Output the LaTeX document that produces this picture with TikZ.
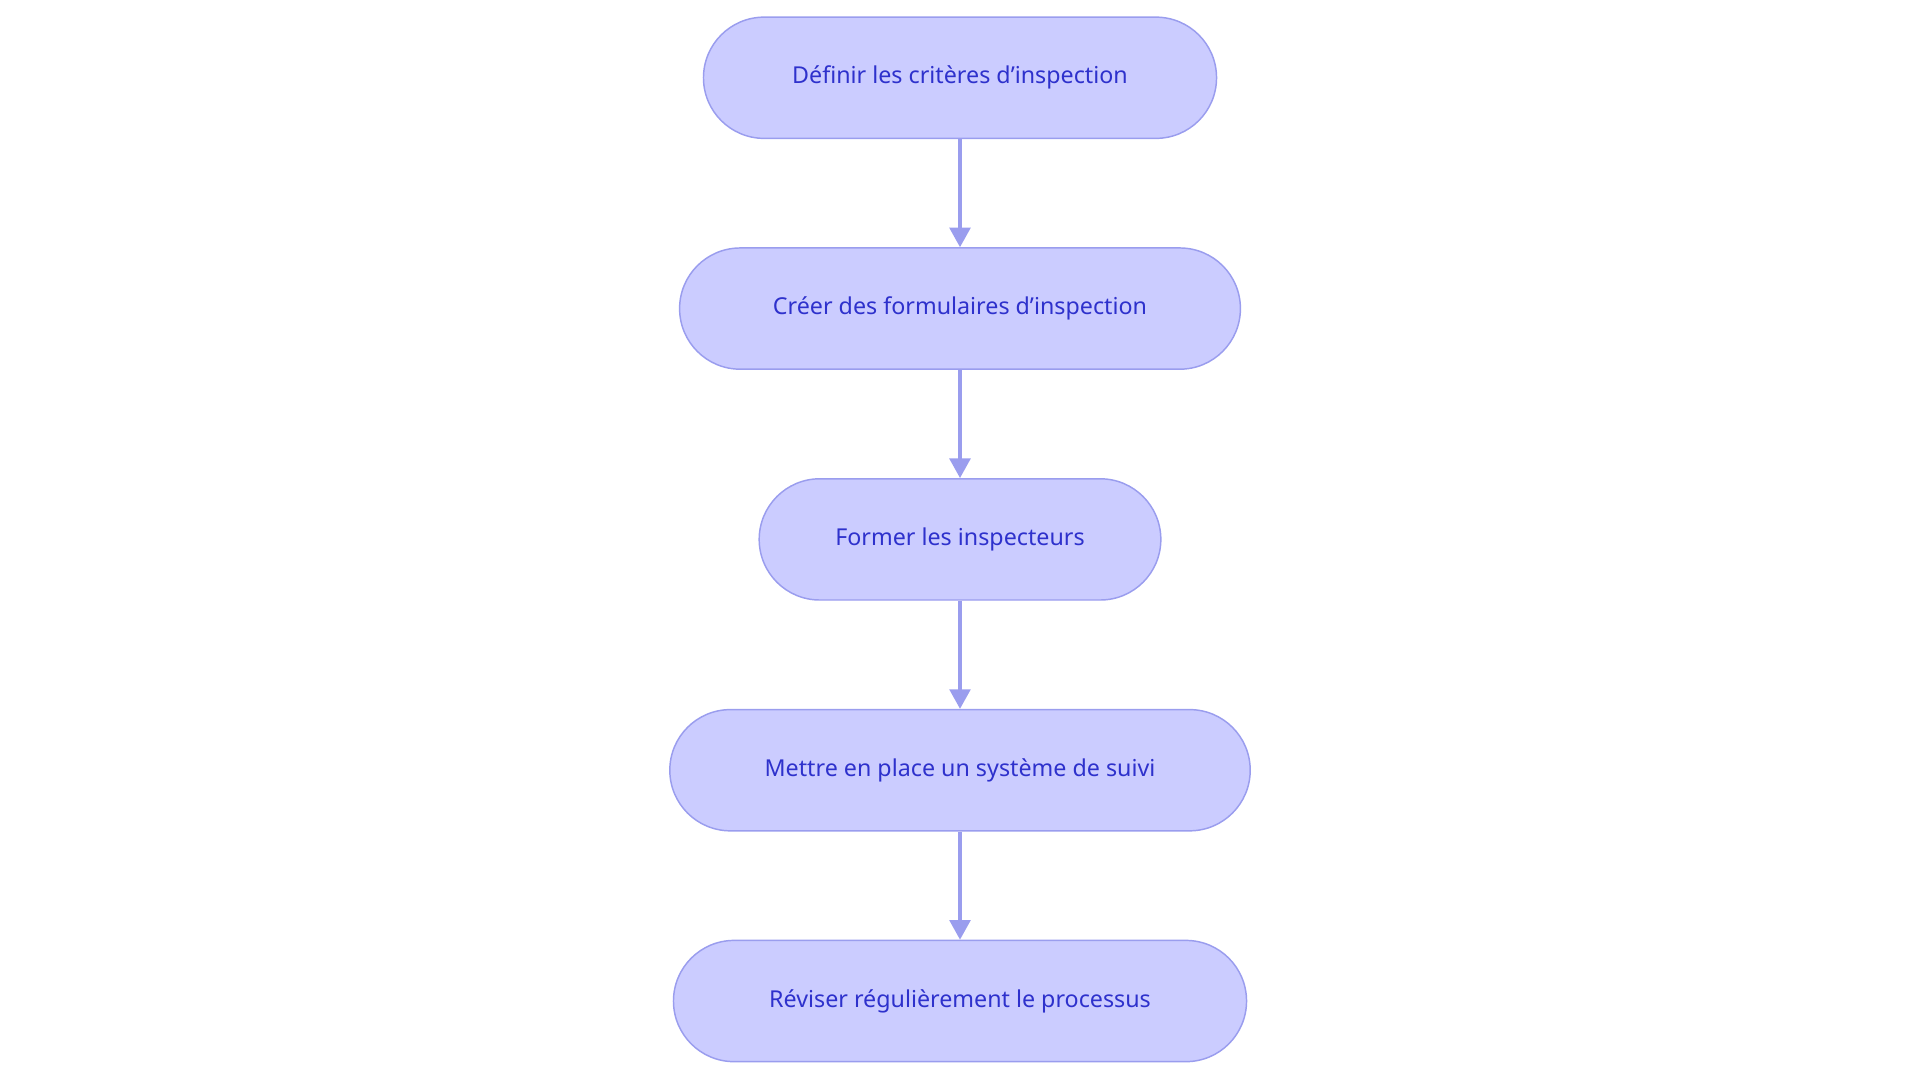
\documentclass[tikz,border=0pt]{standalone}
\usepackage{fontspec}
\setmainfont{Noto Sans}
\usetikzlibrary{arrows.meta}
\definecolor{nfill}{HTML}{CBCCFF}
\definecolor{nline}{HTML}{9A9DEE}
\definecolor{ntext}{HTML}{2E31CC}
\begin{document}
\begin{tikzpicture}[x=1pt,y=-1pt,
  pstep/.style={rounded corners=49.5pt,draw=nline,line width=1.2pt,fill=nfill,text=ntext,
    minimum height=99pt,inner sep=0pt,font=\fontsize{19}{22}\selectfont},
  conn/.style={draw=nline,line width=2.6pt,-{Triangle[length=16pt,width=17pt]}}]
\useasboundingbox (0,0) rectangle (1568,884);
\node[pstep,minimum width=419pt] (a) at (784,63.5) {Définir les critères d'inspection};
\node[pstep,minimum width=458pt] (b) at (784,252) {Créer des formulaires d'inspection};
\node[pstep,minimum width=328pt] (c) at (784,440.5) {Former les inspecteurs};
\node[pstep,minimum width=474pt] (d) at (784,629) {Mettre en place un système de suivi};
\node[pstep,minimum width=468pt] (e) at (784,817.5) {Réviser régulièrement le processus};
\draw[conn] (a) -- (b);
\draw[conn] (b) -- (c);
\draw[conn] (c) -- (d);
\draw[conn] (d) -- (e);
\end{tikzpicture}
\end{document}
